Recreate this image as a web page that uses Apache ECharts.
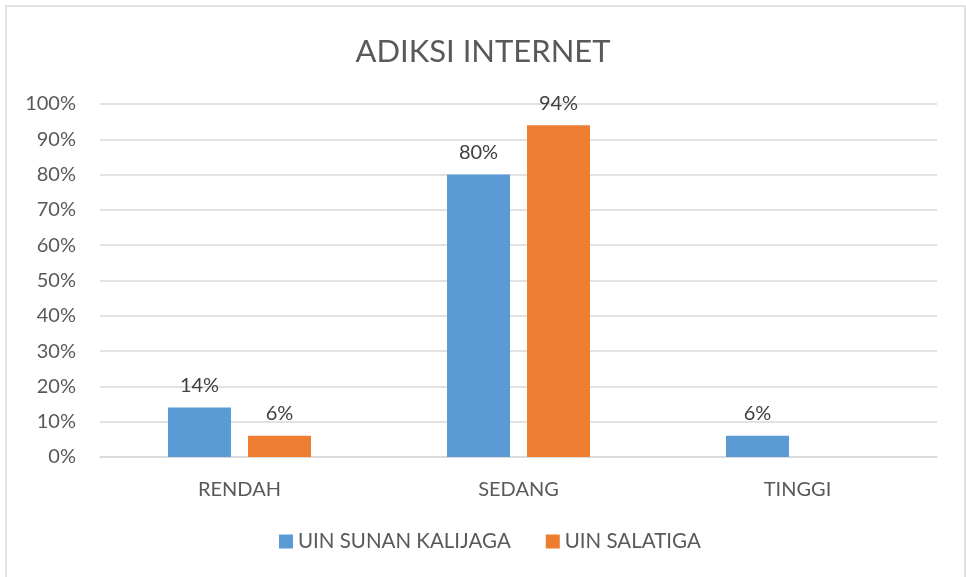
<!DOCTYPE html>
<html>
<head>
<meta charset="utf-8">
<script src="https://cdn.jsdelivr.net/npm/echarts@6/dist/echarts.min.js"></script>
<style>
  html, body { margin: 0; padding: 0; background: #fff; }
  #chart { width: 966px; height: 577px; }
</style>
</head>
<body>
<div id="chart"></div>
<script>
// data
let categories = ["RENDAH", "SEDANG", "TINGGI"]
let sunanKalijaga = [14, 80, 6]
let salatiga = [6, 94, 0]
let seriesNames = ["UIN SUNAN KALIJAGA", "UIN SALATIGA"]

let font = "Lato"

let labelOpt = {
    show: true,
    position: "top",
    distance: 12,
    color: "#404040",
    fontSize: 20,
    fontFamily: font,
    formatter: p => p.value ? p.value + "%" : ""
}

let chart = echarts.init(document.getElementById("chart"), null, { renderer: "canvas" })

chart.setOption({
    animation: false,
    backgroundColor: "#fff",
    title: {
        text: "ADIKSI INTERNET",
        left: "center",
        top: 31,
        textStyle: { color: "#595959", fontSize: 31, fontWeight: "normal", fontFamily: font }
    },
    legend: {
        bottom: 20,
        left: 274,
        itemWidth: 14,
        itemHeight: 14,
        itemGap: 35,
        icon: "rect",
        textStyle: { color: "#595959", fontSize: 20.5, fontFamily: font },
        data: seriesNames
    },
    grid: { left: 100, right: 29, top: 104, bottom: 120 },
    xAxis: {
        type: "category",
        data: categories,
        axisLine: { lineStyle: { color: "#d9d9d9", width: 1.5 } },
        axisTick: { show: false },
        axisLabel: { color: "#595959", fontSize: 20, fontFamily: font, margin: 23 }
    },
    yAxis: {
        type: "value",
        min: 0,
        max: 100,
        interval: 10,
        axisLine: { show: false },
        axisTick: { show: false },
        splitLine: { lineStyle: { color: "#d9d9d9", width: 1.5 } },
        axisLabel: { color: "#595959", fontSize: 20, fontFamily: font, margin: 24, formatter: "{value}%" }
    },
    series: [
        {
            name: seriesNames[0],
            type: "bar",
            data: sunanKalijaga,
            barWidth: 63,
            barGap: "27%",
            itemStyle: { color: "#5b9bd5" },
            label: labelOpt
        },
        {
            name: seriesNames[1],
            type: "bar",
            data: salatiga,
            barWidth: 63,
            itemStyle: { color: "#ed7d31" },
            label: labelOpt
        }
    ],
    graphic: [{
        type: "rect",
        shape: { x: 6, y: 6, width: 959, height: 580 },
        style: { fill: "none", stroke: "#d9d9d9", lineWidth: 1.5 },
        silent: true
    }]
})
</script>
</body>
</html>
